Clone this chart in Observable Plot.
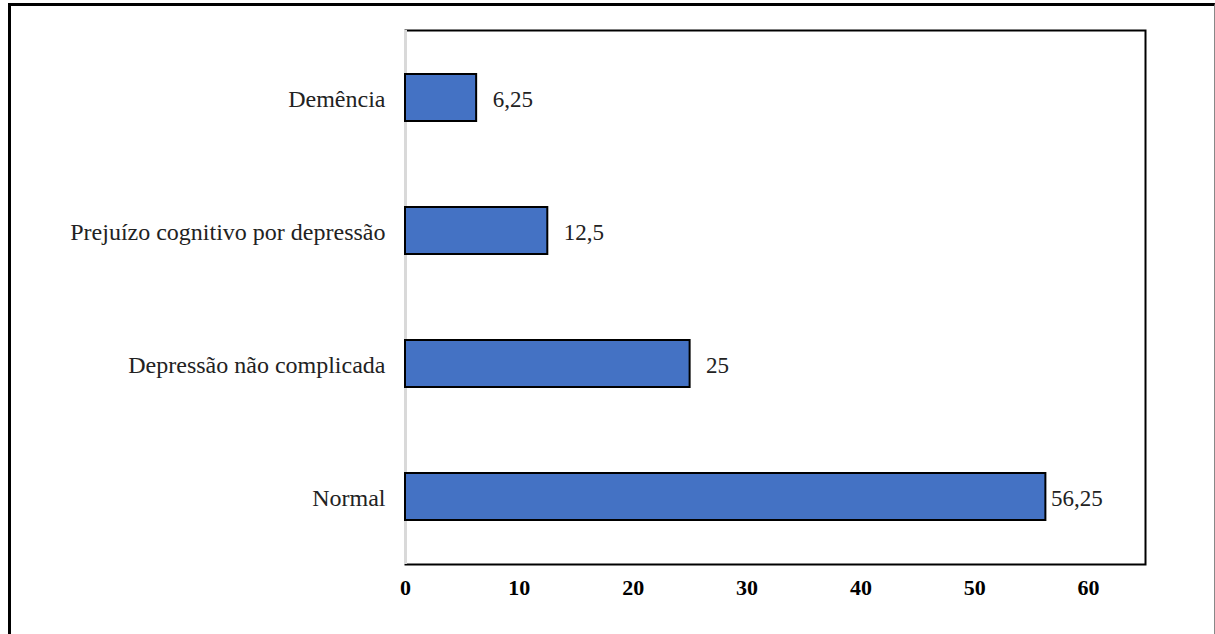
<!DOCTYPE html>
<html>
<head>
<meta charset="utf-8">
<script src="https://cdn.jsdelivr.net/npm/d3@7"></script>
<script src="https://cdn.jsdelivr.net/npm/@observablehq/plot@0.6"></script>
<style>
  html, body { margin: 0; padding: 0; background: #fff; }
  #wrap { position: relative; width: 1215px; height: 634px; overflow: hidden; }
  #outer { position: absolute; left: 8px; top: 3px; width: 1203px; height: 700px;
           border-left: 3px solid #000; border-top: 3px solid #000; border-right: 1px solid #888;
           pointer-events: none; }
  svg text { font-family: "Liberation Serif", "Times New Roman", serif; }
</style>
</head>
<body>
<div id="wrap"><div id="outer"></div></div>
<script>
const categories = ["Demência", "Prejuízo cognitivo por depressão", "Depressão não complicada", "Normal"];
const values = [6.25, 12.5, 25, 56.25];
const valueLabels = ["6,25", "12,5", "25", "56,25"];
const xTicks = [0, 10, 20, 30, 40, 50, 60];

const data = categories.map((c, i) => ({category: c, value: values[i], label: valueLabels[i]}));

const chart = Plot.plot({
  width: 1215,
  height: 634,
  marginLeft: 405,
  marginRight: 70,
  marginTop: 30,
  marginBottom: 70,
  style: {background: "transparent", fontFamily: "'Liberation Serif', 'Times New Roman', serif"},
  x: {domain: [0, 65], ticks: xTicks, label: null},
  y: {domain: categories, paddingInner: 0.65, paddingOuter: 0.325, label: null},
  marks: [
    Plot.frame({stroke: "#000", strokeWidth: 2}),
    Plot.ruleX([0], {stroke: "#d9d9d9", strokeWidth: 3}),
    Plot.barX(data, {x: "value", y: "category", fill: "#4472C4", stroke: "#000", strokeWidth: 2}),
    Plot.text(data.filter(d => d.value < 50), {x: "value", y: "category", text: "label", textAnchor: "start", dx: 16, dy: 2, fontSize: 23, fill: "#222"}),
    Plot.text(data.filter(d => d.value >= 50), {x: "value", y: "category", text: "label", textAnchor: "start", dx: 5, dy: 2, fontSize: 23, fill: "#222"}),
    Plot.axisX({ticks: xTicks, tickSize: 0, tickPadding: 15, fontSize: 22, fontWeight: "bold", fill: "#000", tickFormat: d => String(d)}),
    Plot.axisY({tickSize: 0, tickPadding: 20, fontSize: 24, fill: "#222", dy: 1})
  ]
});
chart.style.position = "absolute";
chart.style.left = "0";
chart.style.top = "0";
document.getElementById("wrap").insertBefore(chart, document.getElementById("outer"));
</script>
</body>
</html>
